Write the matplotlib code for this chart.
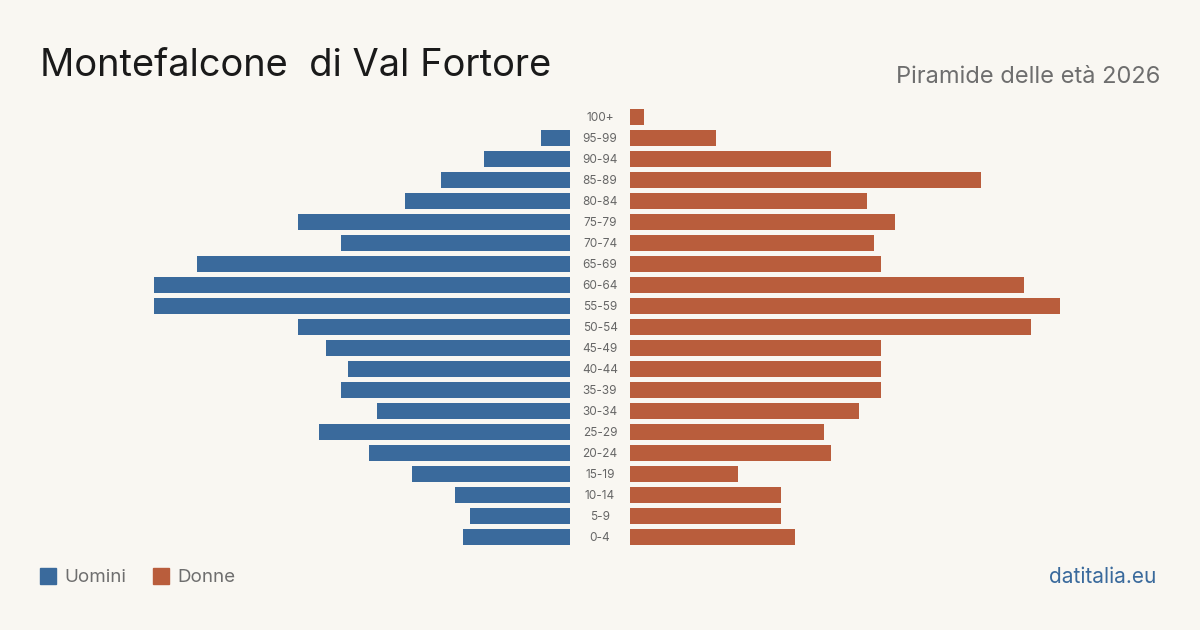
import matplotlib
matplotlib.use('Agg')
import matplotlib.pyplot as plt
from matplotlib.patches import Rectangle

age_groups = ['0-4', '5-9', '10-14', '15-19', '20-24', '25-29', '30-34', '35-39',
              '40-44', '45-49', '50-54', '55-59', '60-64', '65-69', '70-74',
              '75-79', '80-84', '85-89', '90-94', '95-99', '100+']
men = [15, 14, 16, 22, 28, 35, 27, 32, 31, 34, 38, 58, 58, 52, 32, 38, 23, 18, 12, 4, 0]
women = [23, 21, 21, 15, 28, 27, 32, 35, 35, 35, 56, 60, 55, 35, 34, 37, 33, 49, 28, 12, 2]

title = 'Montefalcone  di Val Fortore'
subtitle = 'Piramide delle età 2026'
legend_labels = ['Uomini', 'Donne']
source = 'datitalia.eu'

BG = '#f9f7f2'
BLUE = '#3a6a9c'
ORANGE = '#b95d3c'


def main():
    plt.rcParams['font.family'] = ['Inter', 'DejaVu Sans']
    W, H = 1200, 630
    fig = plt.figure(figsize=(12, 6.3), dpi=100)
    fig.patch.set_facecolor(BG)

    xmax = 60
    scale = 430 / xmax  # px per person
    top = 117 - 10.5
    bottom = 537 + 10.5
    ax_h = (bottom - top) / H
    ax_y = 1 - bottom / H

    left_w = xmax * scale
    axl = fig.add_axes([(570 - left_w) / W, ax_y, left_w / W, ax_h])
    axr = fig.add_axes([630 / W, ax_y, left_w / W, ax_h])

    ypos = list(range(len(age_groups)))
    axl.barh(ypos, men, height=0.8, color=BLUE)
    axr.barh(ypos, women, height=0.8, color=ORANGE)
    axl.set_xlim(xmax, 0)
    axr.set_xlim(0, xmax)
    for ax in (axl, axr):
        ax.set_ylim(-0.5, len(age_groups) - 0.5)
        ax.axis('off')
        ax.set_facecolor('none')

    for y, lab in zip(ypos, age_groups):
        fig.text(600 / W, 1 - (538 - 21 * y) / H, lab, ha='center', va='center',
                 fontsize=8.5, color='#666666')

    fig.text(40 / W, 1 - 66 / H, title, fontsize=27.4, color='#1a1a1a',
             ha='left', va='center')
    fig.text(1160 / W, 1 - 77 / H, subtitle, fontsize=17, color='#6e6e6e',
             ha='right', va='center')

    # legend
    for x0, lab, col in [(40, legend_labels[0], BLUE), (153, legend_labels[1], ORANGE)]:
        fig.patches.append(Rectangle((x0 / W, 1 - 584 / H), 16 / W, 16 / H,
                                     transform=fig.transFigure, color=col))
        fig.text((x0 + 24) / W, 1 - 577 / H, lab, fontsize=13.5, color='#6e6e6e',
                 ha='left', va='center')

    fig.text(1156 / W, 1 - 577 / H, source, fontsize=15, color=BLUE,
             ha='right', va='center')

    fig.savefig('out.png', dpi=100, facecolor=BG)


if __name__ == '__main__':
    main()
